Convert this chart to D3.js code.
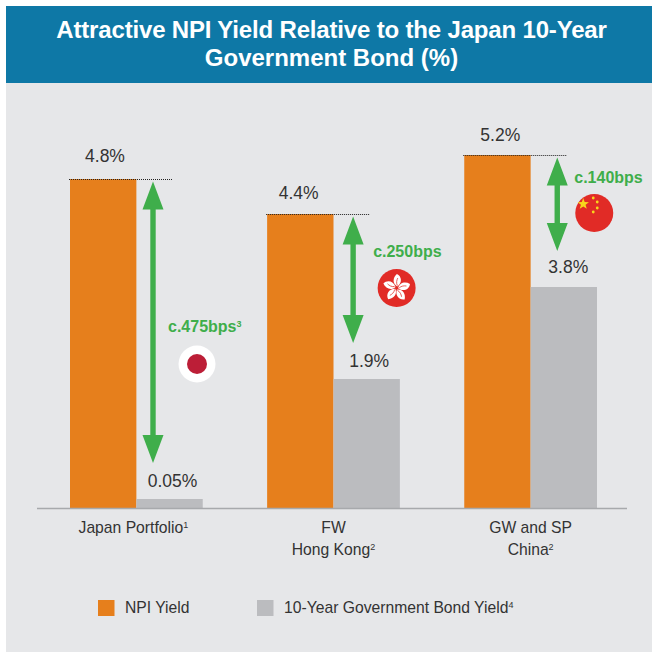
<!DOCTYPE html>
<html>
<head>
<meta charset="utf-8">
<title>Attractive NPI Yield</title>
<script src="https://cdn.jsdelivr.net/npm/d3@7/dist/d3.min.js"></script>
<style>
html,body{margin:0;padding:0;background:#fff}
svg{display:block}
text{font-family:"Liberation Sans",Arial,sans-serif}
</style>
</head>
<body>
<svg id="chart" width="652" height="652"></svg>
<script>
// Chart content
const titleLines = ["Attractive NPI Yield Relative to the Japan 10-Year", "Government Bond (%)"];
const categories = ["Japan Portfolio", "FW Hong Kong", "GW and SP China"];
const categoryLines = [["Japan Portfolio|1"], ["FW", "Hong Kong|2"], ["GW and SP", "China|2"]];
const seriesNames = ["NPI Yield", "10-Year Government Bond Yield"];
const seriesNotes = ["", "4"];
const npiYield = [4.8, 4.4, 5.2];
const bondYield = [0.05, 1.9, 3.8];
const spreadLabels = ["c.475bps", "c.250bps", "c.140bps"];
const spreadNotes = ["3", "", ""];

const colors = {header:"#0e78a6", panel:"#e6e7e9", npi:"#e67f1c", bond:"#bbbcbf",
                axis:"#a7a9ac", green:"#3fae4b", ink:"#333333", red:"#e12b26", jpRed:"#bc1e37", yellow:"#f7d71c"};

const svg = d3.select("#chart");
svg.append("rect").attr("x",6).attr("y",6).attr("width",646).attr("height",646).attr("fill",colors.panel);
svg.append("rect").attr("x",6).attr("y",6).attr("width",646).attr("height",77).attr("fill",colors.header);
svg.append("g").selectAll("text").data(titleLines).join("text")
  .attr("x",331.5).attr("y",(d,i)=>38+i*27.5)
  .attr("text-anchor","middle").attr("fill","#fff")
  .attr("font-weight","700").attr("font-size",24)
  .attr("letter-spacing",(d,i)=>i?0:-0.17)
  .text(d=>d);

// Group and series positions
const x0 = d3.scaleBand().domain(categories).range([70,597]).paddingInner(0.3266);
const x1 = d3.scaleBand().domain(seriesNames).range([0,x0.bandwidth()]);

// The published yield axis is not linear, so the scale runs through
// one knot per labelled value rather than a single straight segment.
const yieldKnots = [0, 0.05, 1.9, 3.8, 4.4, 4.8, 5.2];
const y = d3.scaleLinear().domain(yieldKnots).range([508, 499, 379, 287, 214, 179, 155]);

const rows = categories.map((c,i)=>({c, i, npi:npiYield[i], bond:bondYield[i]}));
const fmt = v => (v < 0.1 ? v.toFixed(2) : v.toFixed(1)) + "%";

const group = svg.append("g").selectAll("g").data(rows).join("g")
  .attr("transform",d=>`translate(${x0(d.c)},0)`);

// Bars
group.append("rect").attr("x",x1(seriesNames[0])).attr("width",x1.bandwidth())
  .attr("y",d=>y(d.npi)).attr("height",d=>y(0)-y(d.npi)).attr("fill",colors.npi);
group.append("rect").attr("x",x1(seriesNames[1])).attr("width",x1.bandwidth())
  .attr("y",d=>y(d.bond)).attr("height",d=>y(0)-y(d.bond)).attr("fill",colors.bond);

// Dotted reference line above each NPI bar
group.append("line")
  .attr("x1",-1).attr("x2",103)
  .attr("y1",d=>y(d.npi)+0.5).attr("y2",d=>y(d.npi)+0.5)
  .attr("stroke","#222").attr("stroke-width",1).attr("stroke-dasharray","1 1");

// Value labels
const npiGap = [17, 15.5, 14.5], npiDx = [35, 31.5, 36];
const bondGap = [12, 12, 14.5], bondDx = [102.5, 102, 104];
group.append("text")
  .attr("x",(d,i)=>npiDx[i]).attr("y",(d,i)=>y(d.npi)-npiGap[i])
  .attr("text-anchor","middle").attr("font-size",17.5).attr("fill",colors.ink)
  .text(d=>fmt(d.npi));
group.append("text")
  .attr("x",(d,i)=>bondDx[i]).attr("y",(d,i)=>y(d.bond)-bondGap[i])
  .attr("text-anchor","middle").attr("font-size",17.5).attr("fill",colors.ink)
  .text(d=>fmt(d.bond));

// Double-headed spread arrows, spanning the gap between the two yields
const arrowDx = [83, 86, 93], headH = 28, headW = 10.5, shaftW = 2.7;
group.append("path")
  .attr("fill",colors.green)
  .attr("d",(d,i)=>{
    const a = arrowDx[i], t = y(d.npi)+2.5, b = y(d.bond)-36;
    return `M${a},${t}L${a+headW},${t+headH}H${a+shaftW}V${b-headH}H${a+headW}`+
           `L${a},${b}L${a-headW},${b-headH}H${a-shaftW}V${t+headH}H${a-headW}Z`;
  });

// Spread callouts, placed relative to each arrow
const calloutDx = [98, 106, 110], calloutY = [332, 257, 183];
const callout = group.append("text")
  .attr("x",(d,i)=>calloutDx[i]).attr("y",(d,i)=>calloutY[i])
  .attr("font-size",16).attr("font-weight","700").attr("fill",colors.green);
callout.append("tspan").text(d=>spreadLabels[d.i]);
callout.append("tspan").attr("font-size",9).attr("dy",-5).text(d=>spreadNotes[d.i]);

// Flag badges
const badge = group.append("g").attr("transform",(d,i)=>{
  const p = [[127,364],[129.5,288],[130,213]][i];
  return `translate(${p[0]},${p[1]})`;
});
const jp = badge.filter(d=>d.i===0);
jp.append("circle").attr("r",18.5).attr("fill","#fff");
jp.append("circle").attr("r",10).attr("fill",colors.jpRed);

// Hong Kong bauhinia: five separated petals, each with a red vein
const hk = badge.filter(d=>d.i===1);
hk.append("circle").attr("r",19).attr("fill",colors.red);
const petal = hk.selectAll("g.petal").data(d3.range(5)).join("g")
  .attr("class","petal")
  .attr("transform",k=>`rotate(${k*72+10})`);
petal.append("path").attr("fill","#fff")
  .attr("d","M0.4,-1.5C-5.2,-3.5 -5.6,-9.5 -2.2,-13.8C3,-12.5 5,-6 0.4,-1.5Z");
petal.append("path").attr("fill","none").attr("stroke",colors.red).attr("stroke-width",0.7)
  .attr("d","M0.3,-2.5C-1.6,-5 -1.2,-8 -0.6,-10");

const cn = badge.filter(d=>d.i===2);
cn.append("circle").attr("r",19).attr("fill",colors.red);
const star = d3.range(10).map(k=>{
  const r = k%2 ? 2.4 : 6, a = k*Math.PI/5;
  return [r*Math.sin(a), -r*Math.cos(a)];
});
cn.append("path").attr("transform","translate(-11,-9)").attr("fill",colors.yellow)
  .attr("d",d3.line()(star)+"Z");
cn.selectAll("circle.dot").data([[-1,-15],[3,-11],[3,-5],[-1,-1]]).join("circle")
  .attr("class","dot").attr("cx",d=>d[0]).attr("cy",d=>d[1]).attr("r",1.4).attr("fill",colors.yellow);

// Category axis
const tickDx = [-3, 0, 0];
const axisG = svg.append("g").attr("transform",`translate(0,${y(0)})`)
  .call(d3.axisBottom(x0).tickSize(0).tickPadding(0));
axisG.select(".domain").remove();
axisG.append("line").attr("x1",37).attr("x2",627).attr("y1",0.5).attr("y2",0.5)
  .attr("stroke",colors.axis).attr("stroke-width",1.6);
axisG.selectAll(".tick text").each(function(c,i){
  const t = d3.select(this).text(null).attr("y",25).attr("dy",0)
    .attr("font-size",15.7).attr("fill",colors.ink)
    .style("font-family",'"Liberation Sans",Arial,sans-serif');
  categoryLines[i].forEach((ln,j)=>{
    const [main,note] = ln.split("|");
    t.append("tspan").attr("x",tickDx[i]).attr("y",25+j*22).text(main);
    if(note) t.append("tspan").attr("font-size",9).attr("dy",-5).text(note);
  });
});

// Legend
const legendX = [98,257], legendTextX = [125,284];
const legend = svg.append("g").selectAll("g").data(seriesNames).join("g");
legend.append("rect").attr("x",(d,i)=>legendX[i]).attr("y",600)
  .attr("width",16.5).attr("height",16)
  .attr("fill",(d,i)=>i?colors.bond:colors.npi);
const legendText = legend.append("text").attr("x",(d,i)=>legendTextX[i]).attr("y",613)
  .attr("font-size",15.7).attr("fill",colors.ink);
legendText.append("tspan").text(d=>d);
legendText.append("tspan").attr("font-size",9).attr("dy",-5).text((d,i)=>seriesNotes[i]);
</script>
</body>
</html>
